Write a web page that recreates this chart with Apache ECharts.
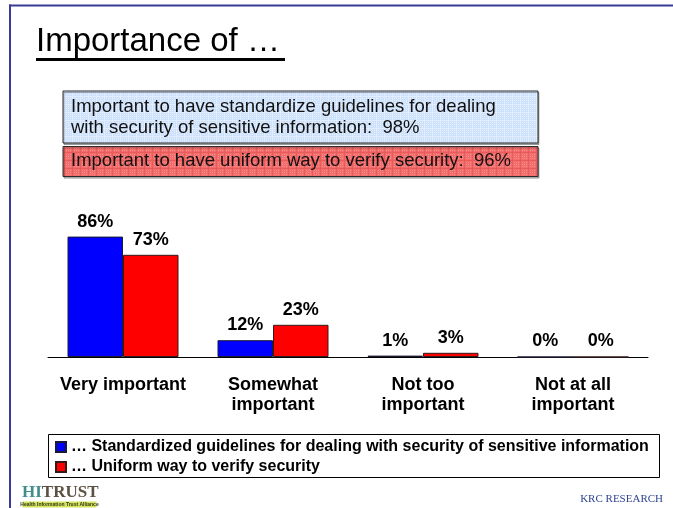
<!DOCTYPE html>
<html>
<head>
<meta charset="utf-8">
<title>Importance of …</title>
<script src="https://cdn.jsdelivr.net/npm/echarts@6/dist/echarts.min.js"></script>
<style>
  html, body { margin: 0; padding: 0; background: #ffffff; }
  #chart { width: 673px; height: 508px; }
</style>
</head>
<body>
<div id="chart"></div>
<script>
// Survey answers per importance level
const categories = ['Very important', 'Somewhat\nimportant', 'Not too\nimportant', 'Not at all\nimportant'];
const standardizedValues = [86, 12, 1, 0];
const uniformValues = [73, 23, 3, 0];
const seriesNames = [
  '\u2026 Standardized guidelines for dealing with security of sensitive information',
  '\u2026 Uniform way to verify security'
];
const titleText = 'Importance of \u2026';
const summaryLines = [
  'Important to have standardize guidelines for dealing\nwith security of sensitive information:  98%',
  'Important to have uniform way to verify security:  96%'
];

const SANS = "'Liberation Sans', Arial, Helvetica, sans-serif";
const SERIF = "'Liberation Serif', 'Times New Roman', serif";

// Small tiled fill for the summary boxes (fine grid texture)
function gridPattern(base, line, dot) {
  const c = document.createElement('canvas');
  c.width = 8; c.height = 8;
  const g = c.getContext('2d');
  g.fillStyle = base; g.fillRect(0, 0, 8, 8);
  g.fillStyle = line;
  g.fillRect(0, 0, 8, 1);
  g.fillRect(0, 0, 1, 8);
  g.fillStyle = dot;
  for (let y = 2; y < 8; y += 2) for (let x = 2; x < 8; x += 2) g.fillRect(x, y, 1, 1);
  return { image: c, repeat: 'repeat' };
}

const chart = echarts.init(document.getElementById('chart'), null, { renderer: 'canvas' });

const barLabel = {
  show: true,
  position: 'top',
  distance: 6,
  formatter: '{c}%',
  color: '#000',
  fontFamily: SANS,
  fontSize: 18,
  fontWeight: 'bold'
};

chart.setOption({
  animation: false,
  backgroundColor: '#ffffff',
  grid: { left: 48, right: 25, top: 217, bottom: 151, containLabel: false },
  xAxis: {
    type: 'category',
    data: categories,
    axisLine: { show: true, lineStyle: { color: '#000', width: 1 } },
    axisTick: { show: false },
    axisLabel: {
      margin: 18,
      color: '#000',
      fontFamily: SANS,
      fontSize: 18,
      fontWeight: 'bold',
      lineHeight: 20,
      interval: 0
    }
  },
  yAxis: {
    type: 'value',
    min: 0,
    max: 100,
    show: false,
    splitLine: { show: false }
  },
  legend: {
    orient: 'vertical',
    left: 55,
    top: 439,
    padding: 0,
    itemGap: 4,
    itemWidth: 10,
    itemHeight: 10,
    icon: 'rect',
    textStyle: { color: '#000', fontFamily: SANS, fontSize: 16, fontWeight: 'bold', lineHeight: 16 },
    data: seriesNames
  },
  series: [
    {
      name: seriesNames[0],
      type: 'bar',
      data: standardizedValues,
      barWidth: 55.5,
      barGap: '0%',
      itemStyle: { color: '#0000ff', borderColor: '#1a1a33', borderWidth: 1 },
      label: barLabel
    },
    {
      name: seriesNames[1],
      type: 'bar',
      data: uniformValues,
      barWidth: 55.5,
      itemStyle: { color: '#ff0000', borderColor: '#331a1a', borderWidth: 1 },
      label: barLabel
    }
  ],
  graphic: [
    // slide frame
    { type: 'rect', shape: { x: 9, y: 4.5, width: 670, height: 2 }, style: { fill: '#3a3a98' }, silent: true },
    { type: 'rect', shape: { x: 9, y: 4.5, width: 2, height: 510 }, style: { fill: '#3a3a98' }, silent: true },
    // heading with underline
    {
      type: 'text', x: 36, y: 42,
      style: { text: titleText, fill: '#000', font: '33px ' + SANS, verticalAlign: 'middle', align: 'left' },
      silent: true
    },
    { type: 'rect', shape: { x: 36, y: 58, width: 249, height: 3 }, style: { fill: '#000' }, silent: true },
    // summary boxes
    {
      type: 'rect', shape: { x: 63, y: 91, width: 475, height: 52 },
      style: { fill: gridPattern('#cde1fb', '#e2eeff', '#e4efff'), stroke: '#2a2a2a', lineWidth: 1,
               shadowColor: 'rgba(0,0,0,0.3)', shadowOffsetX: 1, shadowOffsetY: 1.5 },
      silent: true
    },
    {
      type: 'text', x: 71, y: 96.3,
      style: { text: summaryLines[0], fill: '#111', font: '18.5px ' + SANS, lineHeight: 21, verticalAlign: 'top', align: 'left' },
      silent: true
    },
    {
      type: 'rect', shape: { x: 63, y: 146.5, width: 475, height: 30 },
      style: { fill: gridPattern('#f26c6c', '#e95c5c', '#f78e8e'), stroke: '#2a2a2a', lineWidth: 1,
               shadowColor: 'rgba(0,0,0,0.3)', shadowOffsetX: 1, shadowOffsetY: 1.5 },
      silent: true
    },
    {
      type: 'text', x: 71, y: 161,
      style: { text: summaryLines[1], fill: '#111', font: '18.5px ' + SANS, verticalAlign: 'middle', align: 'left' },
      silent: true
    },
    // legend frame
    {
      type: 'rect', shape: { x: 48.5, y: 434.5, width: 611, height: 43 },
      style: { fill: null, stroke: '#000', lineWidth: 1 }, silent: true
    },
    // HITRUST mark
    {
      type: 'text', x: 22, y: 493,
      style: {
        text: '{a|HI}{b|TRUST}',
        verticalAlign: 'middle', align: 'left',
        rich: {
          a: { font: 'bold 17px ' + SERIF, fill: '#3f8e8c' },
          b: { font: 'bold 17px ' + SERIF, fill: '#5b5042' }
        }
      },
      silent: true
    },
    { type: 'rect', shape: { x: 22.5, y: 501.5, width: 74, height: 6 }, style: { fill: '#d6e35c' }, silent: true },
    {
      type: 'text', x: 59.5, y: 504.6,
      style: { text: 'Health Information Trust Alliance', fill: '#2d3a1e', font: 'bold 5px ' + SANS, verticalAlign: 'middle', align: 'center' },
      silent: true
    },
    // research firm credit
    {
      type: 'text', x: 663, y: 499.5,
      style: { text: 'KRC RESEARCH', fill: '#2e4592', font: '11px ' + SERIF, verticalAlign: 'middle', align: 'right' },
      silent: true
    }
  ]
});
</script>
</body>
</html>
